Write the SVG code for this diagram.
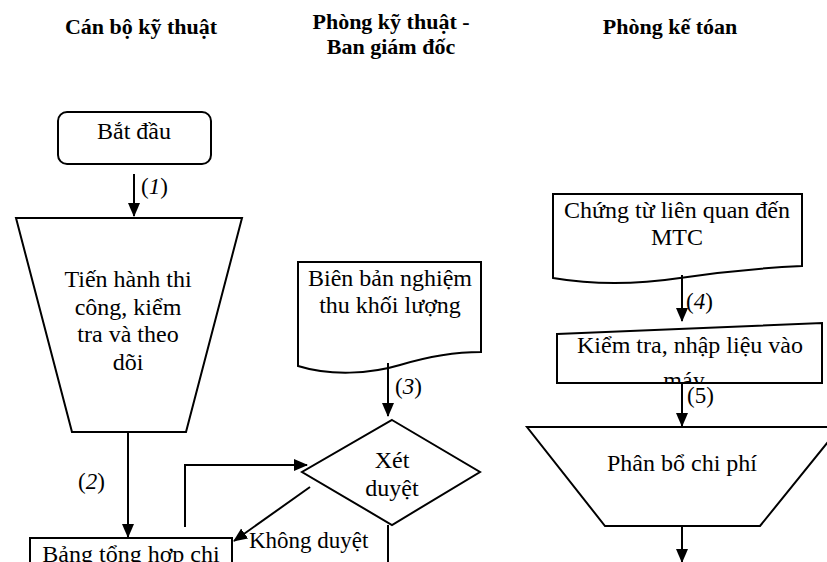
<svg xmlns="http://www.w3.org/2000/svg" width="827" height="562" viewBox="0 0 827 562">
<defs>
<style>
.h{font-family:"Liberation Serif","Times New Roman",serif;font-weight:bold;font-size:22px;fill:#000;text-anchor:middle}
.t{font-family:"Liberation Serif","Times New Roman",serif;font-size:24px;fill:#000;text-anchor:middle}
.l{font-family:"Liberation Serif","Times New Roman",serif;font-size:23px;fill:#000}
.s{fill:#fff;stroke:#000;stroke-width:2}
.c{fill:none;stroke:#000;stroke-width:2}
</style>
<marker id="ah" markerUnits="userSpaceOnUse" markerWidth="14" markerHeight="14" viewBox="0 0 14 14" refX="13" refY="7" orient="auto">
<path d="M0,1 L14,7 L0,13 Z" fill="#000"/>
</marker>
<clipPath id="kclip"><rect x="557" y="323" width="265" height="60"/></clipPath>
</defs>
<rect width="827" height="562" fill="#fff"/>

<g id="headers">
<text class="h" x="141" y="34">Cán bộ kỹ thuật</text>
<text class="h" x="391" y="29">Phòng kỹ thuật -</text>
<text class="h" x="391" y="54">Ban giám đốc</text>
<text class="h" x="670" y="34">Phòng kế tóan</text>
</g>

<g id="batdau">
<rect class="s" x="58" y="112" width="153" height="52" rx="9"/>
<text class="t" x="134" y="139">Bắt đầu</text>
</g>

<g id="tienhanh">
<path class="s" d="M16,218 H242 L186,432 H72 Z"/>
<text class="t" x="128" y="287">Tiến hành thi</text>
<text class="t" x="128" y="315">công, kiểm</text>
<text class="t" x="128" y="342">tra và theo</text>
<text class="t" x="128" y="370">dõi</text>
</g>

<g id="bangtonghop">
<rect class="s" x="30" y="538" width="202" height="40"/>
<text class="t" x="131" y="562">Bảng tổng hợp chi</text>
</g>

<g id="bienban">
<path class="s" d="M298,262 H481 V352 C455,352 430,356 400,365 C370,374 330,376 298,366 Z"/>
<text class="t" x="390" y="286">Biên bản nghiệm</text>
<text class="t" x="390" y="313">thu khối lượng</text>
</g>

<g id="xetduyet">
<path class="s" d="M392,420 L480,472 L392,525 L302,472 Z"/>
<text class="t" x="392" y="468">Xét</text>
<text class="t" x="392" y="496">duyệt</text>
</g>

<g id="chungtu">
<path class="s" d="M553,194 H802 V266 C760,268 720,272 680,278 C640,284 600,286 553,278 Z"/>
<text class="t" x="677" y="218">Chứng từ liên quan đến</text>
<text class="t" x="677" y="245">MTC</text>
</g>

<g id="kiemtra">
<path class="s" d="M557,334 L822,323 V383 H557 Z"/>
<g clip-path="url(#kclip)">
<text class="t" x="690" y="353">Kiểm tra, nhập liệu vào</text>
<text class="t" x="684" y="388">máy</text>
</g>
</g>

<g id="phanbo">
<path class="s" d="M527,427 H840 L760,526 H605 Z"/>
<text class="t" x="682" y="471">Phân bổ chi phí</text>
</g>

<g id="connectors">
<line class="c" x1="134" y1="174" x2="134" y2="216" marker-end="url(#ah)"/>
<text class="l" x="141" y="194"><tspan>(</tspan><tspan font-style="italic">1</tspan><tspan>)</tspan></text>
<line class="c" x1="128" y1="432" x2="128" y2="537" marker-end="url(#ah)"/>
<text class="l" x="78" y="489"><tspan>(</tspan><tspan font-style="italic">2</tspan><tspan>)</tspan></text>
<line class="c" x1="388" y1="363" x2="388" y2="416" marker-end="url(#ah)"/>
<text class="l" x="395" y="394"><tspan>(</tspan><tspan font-style="italic">3</tspan><tspan>)</tspan></text>
<polyline class="c" points="185,527 185,465 307,465" marker-end="url(#ah)"/>
<line class="c" x1="310" y1="487" x2="234" y2="541" marker-end="url(#ah)"/>
<text class="l" x="249" y="548">Không duyệt</text>
<line class="c" x1="388" y1="525" x2="388" y2="562"/>
<line class="c" x1="682" y1="275" x2="682" y2="321" marker-end="url(#ah)"/>
<text class="l" x="686" y="309"><tspan>(</tspan><tspan font-style="italic">4</tspan><tspan>)</tspan></text>
<line class="c" x1="682" y1="384" x2="682" y2="426" marker-end="url(#ah)"/>
<text class="l" x="687" y="403">(5)</text>
<line class="c" x1="682" y1="526" x2="682" y2="562" marker-end="url(#ah)"/>
</g>
</svg>
